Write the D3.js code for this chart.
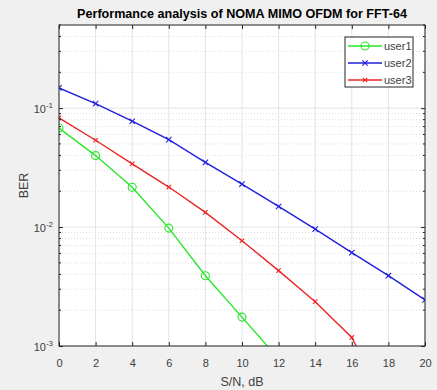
<!DOCTYPE html>
<html>
<head>
<meta charset="utf-8">
<script src="https://cdn.jsdelivr.net/npm/d3@7"></script>
<style>
  body { margin: 0; background: #f0f0f0; }
  svg { display: block; font-family: "Liberation Sans", Arial, sans-serif; }
</style>
</head>
<body>
<svg width="437" height="390"></svg>
<script>
// S/N points in dB
const snr = [0, 2, 4, 6, 8, 10, 12, 14, 16, 18, 20]
// BER (values below 1e-3 get clipped)
const user1 = [0.068, 0.0399, 0.0216, 0.0098, 0.0039, 0.00175, 0.00078]
const user2 = [0.148, 0.109, 0.0776, 0.0543, 0.035, 0.023, 0.0149, 0.0096, 0.0061, 0.0039, 0.00244]
const user3 = [0.0828, 0.0537, 0.034, 0.0217, 0.0133, 0.00767, 0.0043, 0.00236, 0.00118, 0.00029]
const xTicks = [0, 2, 4, 6, 8, 10, 12, 14, 16, 18, 20]
const yTicks = [1e-3, 1e-2, 1e-1]
const seriesNames = ['user1', 'user2', 'user3']

const series = [
  { name: seriesNames[0], values: user1, color: '#2ae62a', marker: 'circle' },
  { name: seriesNames[1], values: user2, color: '#1f1fdd', marker: 'cross' },
  { name: seriesNames[2], values: user3, color: '#ec2424', marker: 'smallcross' }
]

const svg = d3.select('svg')
// axes box edges (note: "top" is taken by window.top)
const mLeft = 59, mRight = 425, mTop = 25, mBottom = 346
const textColor = '#404040'

// scales
const x = d3.scaleLinear().domain([0, 20]).range([mLeft, mRight])
const y = d3.scaleLog().domain([1e-3, 0.5]).range([mBottom, mTop])

// white plotting area
svg.append('rect')
  .attr('x', mLeft).attr('y', mTop)
  .attr('width', mRight - mLeft).attr('height', mBottom - mTop)
  .attr('fill', '#fff')

// minor grid (dotted) for log axis
const minor = []
for (let e = -3; e <= -1; e++) {
  for (let m = 2; m <= 9; m++) {
    const v = m * Math.pow(10, e)
    if (v <= 0.5) minor.push(v)
  }
}
svg.append('g').selectAll('line')
  .data(minor)
  .join('line')
  .attr('x1', mLeft).attr('x2', mRight)
  .attr('y1', d => y(d)).attr('y2', d => y(d))
  .attr('stroke', '#dcdcdc')
  .attr('stroke-dasharray', '1,2')

// major grid
svg.append('g').selectAll('line')
  .data(xTicks)
  .join('line')
  .attr('x1', d => x(d)).attr('x2', d => x(d))
  .attr('y1', mTop).attr('y2', mBottom)
  .attr('stroke', '#e3e3e3')
svg.append('g').selectAll('line')
  .data(yTicks)
  .join('line')
  .attr('x1', mLeft).attr('x2', mRight)
  .attr('y1', d => y(d)).attr('y2', d => y(d))
  .attr('stroke', '#e3e3e3')

// clip the curves to the axes box
svg.append('clipPath').attr('id', 'clip')
  .append('rect')
  .attr('x', mLeft).attr('y', mTop)
  .attr('width', mRight - mLeft).attr('height', mBottom - mTop)

const line = d3.line()
  .x((d, i) => x(snr[i]))
  .y(d => y(d))

const plot = svg.append('g').attr('clip-path', 'url(#clip)')

const drawMarker = function (g, kind, color) {
  if (kind === 'circle') {
    g.append('circle').attr('r', 4)
      .attr('fill', 'none').attr('stroke', color).attr('stroke-width', 1.1)
  } else {
    const s = kind === 'cross' ? 2.7 : 2.2
    g.append('path')
      .attr('d', `M${-s},${-s}L${s},${s}M${-s},${s}L${s},${-s}`)
      .attr('stroke', color).attr('stroke-width', 1.1)
  }
}

series.forEach(s => {
  plot.append('path')
    .attr('d', line(s.values))
    .attr('fill', 'none')
    .attr('stroke', s.color)
    .attr('stroke-width', 1.4)
  s.values.forEach((v, i) => {
    const g = plot.append('g').attr('transform', `translate(${x(snr[i])},${y(v)})`)
    drawMarker(g, s.marker, s.color)
  })
})

// axes box and inward ticks
const axes = svg.append('g')
axes.append('rect')
  .attr('x', mLeft).attr('y', mTop)
  .attr('width', mRight - mLeft).attr('height', mBottom - mTop)
  .attr('fill', 'none').attr('stroke', '#262626').attr('stroke-width', 1)

const bottomAxis = d3.axisBottom(x).tickValues(xTicks).tickSizeInner(-4).tickSizeOuter(0).tickPadding(13)
const topAxis = d3.axisTop(x).tickValues(xTicks).tickSizeInner(-4).tickSizeOuter(0).tickFormat('')
axes.append('g').attr('transform', `translate(0,${mBottom})`).call(bottomAxis)
axes.append('g').attr('transform', `translate(0,${mTop})`).call(topAxis)

const leftAxis = d3.axisLeft(y).tickValues(yTicks).tickSizeInner(-4).tickSizeOuter(0).tickFormat('')
const rightAxis = d3.axisRight(y).tickValues(yTicks).tickSizeInner(-4).tickSizeOuter(0).tickFormat('')
axes.append('g').attr('transform', `translate(${mLeft},0)`).call(leftAxis)
axes.append('g').attr('transform', `translate(${mRight},0)`).call(rightAxis)

// minor ticks on both y sides
axes.append('g').selectAll('line')
  .data(minor)
  .join('line')
  .attr('x1', mLeft).attr('x2', mLeft + 2)
  .attr('y1', d => y(d)).attr('y2', d => y(d))
  .attr('stroke', '#262626')
axes.append('g').selectAll('line')
  .data(minor)
  .join('line')
  .attr('x1', mRight - 2).attr('x2', mRight)
  .attr('y1', d => y(d)).attr('y2', d => y(d))
  .attr('stroke', '#262626')

axes.selectAll('.domain').remove()
axes.selectAll('.tick line').attr('stroke', '#262626')
axes.selectAll('.tick text')
  .attr('fill', textColor)
  .style('font-size', '11px')
  .style('font-family', '"Liberation Sans", Arial, sans-serif')

// y tick labels as 10^n
yTicks.forEach(v => {
  const t = svg.append('text')
    .attr('x', mLeft - 6).attr('y', y(v) + 5)
    .attr('text-anchor', 'end')
    .attr('fill', textColor)
    .style('font-size', '11px')
  t.append('tspan').text('10')
  t.append('tspan').attr('dy', -5).style('font-size', '8px').text(Math.round(Math.log10(v)))
})

// title and labels
svg.append('text')
  .attr('x', 242).attr('y', 18)
  .attr('text-anchor', 'middle')
  .attr('fill', '#000')
  .style('font-size', '12.6px').style('font-weight', 'bold')
  .text('Performance analysis of NOMA MIMO OFDM for FFT-64')

svg.append('text')
  .attr('x', (mLeft + mRight) / 2).attr('y', 386)
  .attr('text-anchor', 'middle')
  .attr('fill', textColor)
  .style('font-size', '12.5px')
  .text('S/N, dB')

svg.append('text')
  .attr('transform', `translate(28,${(mTop + mBottom) / 2}) rotate(-90)`)
  .attr('text-anchor', 'middle')
  .attr('fill', textColor)
  .style('font-size', '12.5px')
  .text('BER')

// legend
const legend = svg.append('g').attr('transform', 'translate(345,37)')
legend.append('rect')
  .attr('width', 68).attr('height', 50)
  .attr('fill', '#fff').attr('stroke', '#262626')
series.forEach((s, i) => {
  const row = legend.append('g').attr('transform', `translate(0,${9 + i * 17})`)
  row.append('line')
    .attr('x1', 3).attr('x2', 37)
    .attr('stroke', s.color).attr('stroke-width', 1.4)
  drawMarker(row.append('g').attr('transform', 'translate(20,0)'), s.marker, s.color)
  row.append('text')
    .attr('x', 39).attr('y', 4)
    .attr('fill', textColor)
    .style('font-size', '11px')
    .text(s.name)
})
</script>
</body>
</html>
